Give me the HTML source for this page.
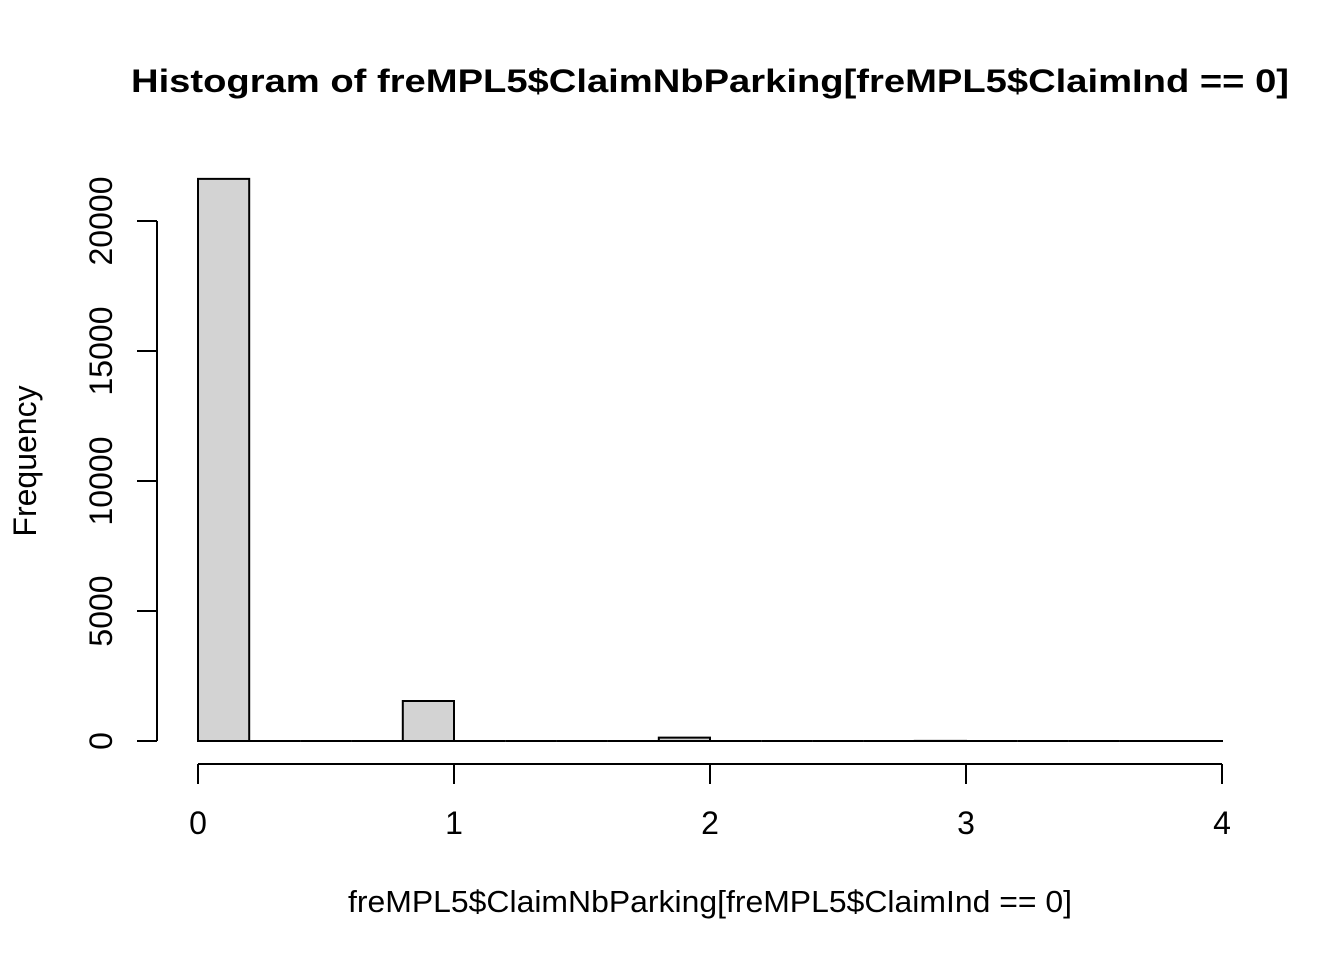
<!DOCTYPE html>
<html><head><meta charset="utf-8"><style>body{margin:0;background:#fff}svg{display:block}text{font-family:"Liberation Sans",Arial,sans-serif;fill:#000}</style></head>
<body>
<svg id="chart" width="1344" height="960">
<text x="710" y="92" text-anchor="middle" font-size="32" font-weight="bold" textLength="1158" lengthAdjust="spacingAndGlyphs">Histogram of freMPL5$ClaimNbParking[freMPL5$ClaimInd == 0]</text>
<text x="710" y="912" text-anchor="middle" font-size="31" textLength="724" lengthAdjust="spacingAndGlyphs">freMPL5$ClaimNbParking[freMPL5$ClaimInd == 0]</text>
<text transform="translate(36,461) rotate(-90)" text-anchor="middle" font-size="32">Frequency</text>
<g id="bars"></g><g id="xaxis"></g><g id="yaxis"></g>
</svg>
<script>
const binStarts=[0,0.2,0.4,0.6,0.8,1.0,1.2,1.4,1.6,1.8,2.0,2.2,2.4,2.6,2.8,3.0,3.2,3.4,3.6,3.8];
const counts=[21620,0,0,0,1540,0,0,0,0,130,0,0,0,0,3,0,0,0,0,1];
const binWidth=0.2;
const xTicks=[0,1,2,3,4];
const yTicks=[0,5000,10000,15000,20000];
const NS="http://www.w3.org/2000/svg";
const X=v=>198+v*256;
const Y=v=>741-v*0.026;
function mk(t,a,p){const e=document.createElementNS(NS,t);for(const k in a)e.setAttribute(k,a[k]);p.appendChild(e);return e;}
const bars=document.getElementById('bars');
binStarts.forEach((s,i)=>{
  const x0=X(s),x1=X(s+binWidth),y=Y(counts[i]),b=Y(0);
  const r=mk('path',{d:`M${x0},${b}L${x0},${y}L${x1},${y}L${x1},${b}Z`,fill:'#d3d3d3',stroke:'#000','stroke-width':2},bars);
  
  
});
const xa=document.getElementById('xaxis');
const xl=mk('line',{x1:X(xTicks[0]),x2:X(xTicks[xTicks.length-1]),y1:764,y2:764,stroke:'#000','stroke-width':2},xa);


xTicks.forEach(t=>{
  mk('line',{x1:X(t),x2:X(t),y1:764,y2:784,stroke:'#000','stroke-width':2},xa);
  const tx=mk('text',{x:X(t),y:834,'text-anchor':'middle','font-size':32},xa);
  tx.textContent=t;
  
  
});
const ya=document.getElementById('yaxis');
const yl=mk('line',{x1:157,x2:157,y1:Y(yTicks[0]),y2:Y(yTicks[yTicks.length-1]),stroke:'#000','stroke-width':2},ya);


yTicks.forEach(t=>{
  mk('line',{x1:137,x2:157,y1:Y(t),y2:Y(t),stroke:'#000','stroke-width':2},ya);
  const tx=mk('text',{transform:`translate(112,${Y(t)}) rotate(-90)`,'text-anchor':'middle','font-size':32},ya);
  tx.textContent=t;
  
  
});
</script>
</body></html>
